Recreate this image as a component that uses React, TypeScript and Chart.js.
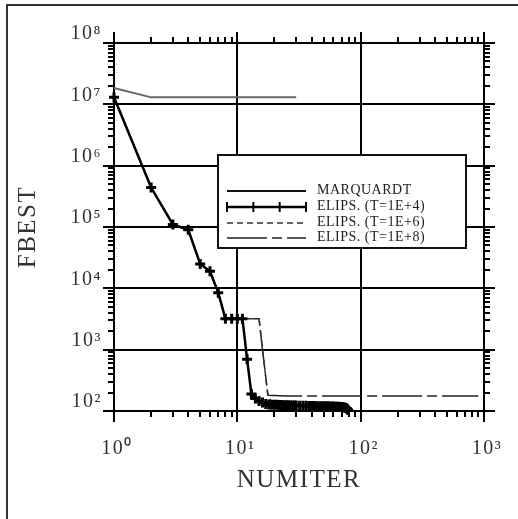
import React, { useEffect, useRef } from 'react';
import { Chart, registerables } from 'chart.js';

Chart.register(...registerables);

// ---- axis ticks ----
const xTickValues = [1, 10, 100, 1000];
const xTickLabels = ['10⁰', '10¹', '10²', '10³'];
const yTickValues = [1e2, 1e3, 1e4, 1e5, 1e6, 1e7, 1e8];
const yTickLabels = ['10²', '10³', '10⁴', '10⁵', '10⁶', '10⁷', '10⁸'];
const minorMultipliers = [2, 3, 4, 5, 6, 7, 8, 9];

// ---- series ----
const seriesNames = ['MARQUARDT', 'ELIPS. (T=1E+4)', 'ELIPS. (T=1E+6)', 'ELIPS. (T=1E+8)'];

const marquardtIter = [1, 2, 30];
const marquardtFbest = [1.85e7, 1.3e7, 1.3e7];

const elips4Iter = [1, 2, 3, 4, 5, 6, 7, 8, 9, 10, 11, 12, 13, 14, 15, 16, 17, 18, 19, 20, 21, 22, 23, 24, 25, 26, 27, 28, 29, 30, 32, 34, 36, 38, 40, 42, 44, 46, 48, 50, 52, 54, 56, 58, 60, 62, 64, 66, 68, 70, 72, 74, 76, 77, 78, 79];
const elips4Fbest = [1.3e7, 4.4e5, 1.1e5, 9e4, 2.5e4, 1.9e4, 8.5e3, 3.2e3, 3.2e3, 3.2e3, 3.2e3, 7e2, 1.9e2, 1.6e2, 1.45e2, 1.38e2, 1.3e2, 1.28e2, 1.27e2, 1.26e2, 1.26e2, 1.25e2, 1.25e2, 1.24e2, 1.24e2, 1.24e2, 1.23e2, 1.23e2, 1.23e2, 1.23e2, 1.22e2, 1.22e2, 1.22e2, 1.21e2, 1.21e2, 1.21e2, 1.2e2, 1.2e2, 1.2e2, 1.19e2, 1.19e2, 1.19e2, 1.18e2, 1.18e2, 1.18e2, 1.17e2, 1.17e2, 1.17e2, 1.16e2, 1.16e2, 1.15e2, 1.14e2, 1.12e2, 1.1e2, 1.07e2, 1.04e2];

const elips6Iter = [1, 2, 3, 4, 5, 6, 7, 8, 9, 10, 11, 13, 15, 16, 17.7, 19, 22, 30, 45, 60, 75];
const elips6Fbest = [1.3e7, 4.4e5, 1.1e5, 9e4, 2.5e4, 1.9e4, 8.5e3, 3.2e3, 3.2e3, 3.2e3, 3.2e3, 3.2e3, 3.2e3, 1e3, 1.8e2, 1.4e2, 1.3e2, 1.28e2, 1.25e2, 1.22e2, 1.2e2];

const elips8Iter = [1, 2, 3, 4, 5, 6, 7, 8, 9, 10, 11, 13, 15, 16, 17.7, 25, 50, 100, 200, 400, 900];
const elips8Fbest = [1.3e7, 4.4e5, 1.1e5, 9e4, 2.5e4, 1.9e4, 8.5e3, 3.2e3, 3.2e3, 3.2e3, 3.2e3, 3.2e3, 3.2e3, 1e3, 1.8e2, 1.75e2, 1.75e2, 1.75e2, 1.75e2, 1.75e2, 1.75e2];

const pts = (xs: number[], ys: number[]) => xs.map((x, i) => ({ x, y: ys[i] }));

const SERIF = '"Liberation Serif", "Times New Roman", serif';

const framePlugin = {
  id: 'frame',
  beforeDraw(chart: any) {
    const { ctx } = chart;
    ctx.save();
    ctx.fillStyle = '#333';
    ctx.fillRect(6, 4, 2, 520);
    ctx.fillRect(6, 4, 520, 2);
    ctx.restore();
    // letter spacing for axis text (drawn before datasets)
    ctx.letterSpacing = '1.5px';
  },
  beforeDatasetsDraw(chart: any) {
    chart.ctx.letterSpacing = '0px';
  },
};

const minorTickPlugin = {
  id: 'minorTicks',
  afterDraw(chart: any) {
    const { ctx, chartArea, scales } = chart;
    const len = 6;
    ctx.save();
    ctx.strokeStyle = '#000';
    ctx.lineWidth = 2;
    ctx.beginPath();
    xTickValues.slice(0, -1).forEach((d) => {
      minorMultipliers.forEach((m) => {
        const px = Math.round(scales.x.getPixelForValue(d * m));
        ctx.moveTo(px, chartArea.bottom);
        ctx.lineTo(px, chartArea.bottom + len);
        ctx.moveTo(px, chartArea.top);
        ctx.lineTo(px, chartArea.top - len);
      });
    });
    yTickValues.slice(0, -1).forEach((d) => {
      minorMultipliers.forEach((m) => {
        const py = Math.round(scales.y.getPixelForValue(d * m));
        ctx.moveTo(chartArea.left - len, py);
        ctx.lineTo(chartArea.left, py);
        ctx.moveTo(chartArea.right, py);
        ctx.lineTo(chartArea.right + len, py);
      });
    });
    ctx.stroke();
    ctx.restore();
  },
};

const boxLegendPlugin = {
  id: 'boxLegend',
  afterDatasetsDraw(chart: any) {
    const { ctx, chartArea } = chart;
    const x0 = chartArea.left + 104;
    const y0 = chartArea.top + 112;
    const w = 248;
    const h = 93;
    ctx.save();
    ctx.fillStyle = '#fff';
    ctx.fillRect(x0, y0, w, h);
    ctx.strokeStyle = '#111';
    ctx.lineWidth = 2;
    ctx.strokeRect(x0, y0, w, h);
    chart.data.datasets.forEach((ds: any, i: number) => {
      const y = Math.round(y0 + 36 + i * 15.8);
      const xa = x0 + 9;
      const xb = x0 + 88;
      ctx.save();
      ctx.strokeStyle = i === 0 ? '#111' : ds.borderColor;
      ctx.lineWidth = ds.borderWidth;
      ctx.setLineDash(ds.borderDash || []);
      ctx.beginPath();
      ctx.moveTo(xa, y);
      ctx.lineTo(xb, y);
      ctx.stroke();
      ctx.setLineDash([]);
      if (ds.pointRadius > 0) {
        ctx.lineWidth = 2;
        ctx.beginPath();
        for (let k = 0; k < 4; k++) {
          const cx = xa + ((xb - xa) * k) / 3;
          ctx.moveTo(cx, y - 5);
          ctx.lineTo(cx, y + 5);
        }
        ctx.stroke();
      }
      ctx.restore();
      ctx.fillStyle = '#222';
      ctx.font = `14px ${SERIF}`;
      ctx.letterSpacing = '0.5px';
      ctx.textBaseline = 'middle';
      ctx.textAlign = 'left';
      ctx.fillText(ds.label, x0 + 99, y - 1);
    });
    ctx.restore();
  },
};

export default function App() {
  const ref = useRef<HTMLCanvasElement>(null);
  useEffect(() => {
    if (!ref.current) return;
    const setTicks = (vals: number[]) => (scale: any) => {
      scale.ticks = vals.map((v) => ({ value: v, major: true }));
    };
    const chart = new Chart(ref.current, {
      type: 'line',
      data: {
        datasets: [
          {
            label: seriesNames[0],
            data: pts(marquardtIter, marquardtFbest),
            borderColor: '#666',
            borderWidth: 2,
            pointRadius: 0,
            clip: 8,
          },
          {
            label: seriesNames[1],
            data: pts(elips4Iter, elips4Fbest),
            borderColor: '#000',
            borderWidth: 2.5,
            pointStyle: 'cross',
            pointRadius: 5,
            pointBorderWidth: 3,
            pointBorderColor: '#000',
            clip: 8,
          },
          {
            label: seriesNames[2],
            data: pts(elips6Iter, elips6Fbest),
            borderColor: '#333',
            borderWidth: 1.5,
            borderDash: [6, 4],
            pointRadius: 0,
            clip: 8,
          },
          {
            label: seriesNames[3],
            data: pts(elips8Iter, elips8Fbest),
            borderColor: '#222',
            borderWidth: 1.5,
            borderDash: [40, 5, 10, 5],
            pointRadius: 0,
            clip: 8,
          },
        ] as any,
      },
      options: {
        animation: false,
        responsive: false,
        layout: { padding: 0 },
        plugins: { legend: { display: false }, tooltip: { enabled: false } },
        scales: {
          x: {
            type: 'logarithmic',
            position: 'bottom',
            min: 1,
            max: 1000,
            afterBuildTicks: setTicks(xTickValues),
            afterFit: (s: any) => { s.height = 108; },
            grid: { color: '#000', lineWidth: 2, tickLength: 11, drawOnChartArea: true },
            border: { display: true, color: '#000', width: 2 },
            ticks: {
              callback: (_v: any, i: number) => xTickLabels[i],
              color: '#333',
              font: { family: SERIF, size: 20 },
              padding: 15,
              labelOffset: 3,
              maxRotation: 0,
              autoSkip: false,
            },
            title: {
              display: true,
              text: 'NUMITER',
              color: '#333',
              font: { family: SERIF, size: 25 },
              padding: { top: 0, bottom: 24 },
            },
          },
          x2: {
            type: 'logarithmic',
            position: 'top',
            min: 1,
            max: 1000,
            afterBuildTicks: setTicks(xTickValues),
            afterFit: (s: any) => { s.height = 43; },
            grid: { color: '#000', lineWidth: 2, tickLength: 11, drawOnChartArea: false },
            border: { display: true, color: '#000', width: 2 },
            ticks: { display: false },
          },
          y: {
            type: 'logarithmic',
            position: 'left',
            min: 1e2,
            max: 1e8,
            afterBuildTicks: setTicks(yTickValues),
            afterFit: (s: any) => { s.width = 114; },
            grid: { color: '#000', lineWidth: 2, tickLength: 11, drawOnChartArea: true },
            border: { display: true, color: '#000', width: 2 },
            ticks: {
              callback: (_v: any, i: number) => yTickLabels[i],
              color: '#333',
              font: { family: SERIF, size: 20 },
              padding: 1,
              labelOffset: -9,
              autoSkip: false,
            },
            title: {
              display: true,
              text: 'FBEST',
              color: '#333',
              font: { family: SERIF, size: 25 },
              padding: { top: 13, bottom: 0 },
            },
          },
          y2: {
            type: 'logarithmic',
            position: 'right',
            min: 1e2,
            max: 1e8,
            afterBuildTicks: setTicks(yTickValues),
            afterFit: (s: any) => { s.width = 34; },
            grid: { color: '#000', lineWidth: 2, tickLength: 11, drawOnChartArea: false },
            border: { display: true, color: '#000', width: 2 },
            ticks: { display: false },
          },
        },
      } as any,
      plugins: [framePlugin, minorTickPlugin, boxLegendPlugin],
    });
    return () => chart.destroy();
  }, []);
  return (
    <div style={{ position: 'absolute', left: 0, top: 0, width: 518, height: 519 }}>
      <canvas ref={ref} width={518} height={519} style={{ display: 'block', width: 518, height: 519 }} />
    </div>
  );
}
